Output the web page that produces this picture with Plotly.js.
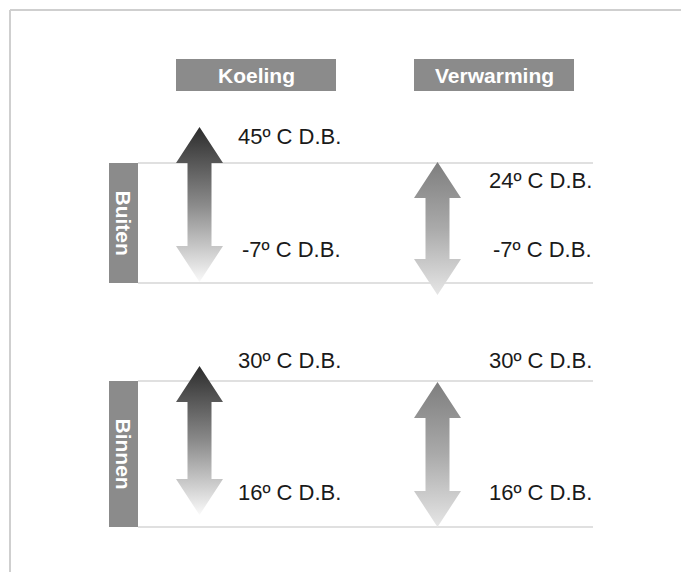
<!DOCTYPE html>
<html>
<head>
<meta charset="utf-8">
<script src="https://cdn.plot.ly/plotly-3.0.1.min.js"></script>
<style>html,body{margin:0;padding:0;background:#fff;}#chart{width:681px;height:572px;}</style>
</head>
<body>
<div id="chart"></div>
<script>
// ---- data ----
const modes = ['Koeling', 'Verwarming'];
const zones = ['Buiten', 'Binnen'];
const koelingMax = [45, 30];      // per zone
const koelingMin = [-7, 16];
const verwarmingMax = [24, 30];
const verwarmingMin = [-7, 16];
const unitLabel = 'º C D.B.';

// ---- layout constants (pixel-space schematic) ----
const W = 681, H = 572;
const colX = [199.5, 437.5];                 // arrow centres per mode
const headerBox = [[176, 336], [414, 574]];  // header x extents per mode
const zoneBand = [[163, 283], [381, 527]];   // horizontal guide lines per zone
const arrowTop = [[127, 162], [366, 382]];   // [zone][mode]
const arrowBot = [[282, 295], [515, 527]];
const labelRight = [343, 594];
const maxLabelY = [[136, 180], [360, 360]];
const minLabelY = [[249, 249], [492, 492]];
const gradients = [
  [[0, '#2c2c2c'], [0.5, '#8a8a8a'], [1, '#fafafa']],
  [[0, '#7e7e7e'], [0.5, '#aaaaaa'], [1, '#e6e6e6']]
];

const maxVals = [koelingMax, verwarmingMax];
const minVals = [koelingMin, verwarmingMin];

function arrowPath(cx, top, bot) {
  const hw = 23.5, sw = 12, hh = 36;
  const x = [cx, cx + hw, cx + sw, cx + sw, cx + hw, cx, cx - hw, cx - sw, cx - sw, cx - hw, cx];
  const y = [top, top + hh, top + hh, bot - hh, bot - hh, bot, bot - hh, bot - hh, top + hh, top + hh, top];
  return {x, y};
}

const traces = [];
const annotations = [];
const shapes = [];

// frame
shapes.push({type: 'line', xref: 'x', yref: 'y', x0: 10, x1: 10, y0: 10, y1: H, line: {color: '#cfcfcf', width: 2}});
shapes.push({type: 'line', xref: 'x', yref: 'y', x0: 10, x1: W, y0: 10, y1: 10, line: {color: '#cfcfcf', width: 2}});

// headers
modes.forEach((m, i) => {
  shapes.push({type: 'rect', x0: headerBox[i][0], x1: headerBox[i][1], y0: 59, y1: 91, fillcolor: '#8b8b8b', line: {width: 0}, layer: 'below'});
  annotations.push({x: (headerBox[i][0] + headerBox[i][1]) / 2, y: 75, text: '<b>' + m + '</b>', showarrow: false,
    font: {family: 'Liberation Sans, Arial, sans-serif', size: 21, color: '#ffffff'}, xanchor: 'center', yanchor: 'middle'});
});

// zones
zones.forEach((z, zi) => {
  const [t, b] = zoneBand[zi];
  shapes.push({type: 'line', x0: 138, x1: 593, y0: t, y1: t, line: {color: '#d6d6d6', width: 1.5}, layer: 'below'});
  shapes.push({type: 'line', x0: 138, x1: 593, y0: b, y1: b, line: {color: '#d6d6d6', width: 1.5}, layer: 'below'});
  shapes.push({type: 'rect', x0: 109, x1: 138, y0: t, y1: b, fillcolor: '#8b8b8b', line: {width: 0}, layer: 'below'});
  annotations.push({x: 123.5, y: (t + b) / 2, text: '<b>' + z + '</b>', textangle: 90, showarrow: false,
    font: {family: 'Liberation Sans, Arial, sans-serif', size: 21, color: '#ffffff'}, xanchor: 'center', yanchor: 'middle'});

  modes.forEach((m, mi) => {
    const p = arrowPath(colX[mi], arrowTop[zi][mi], arrowBot[zi][mi]);
    traces.push({
      type: 'scatter', mode: 'lines', x: p.x, y: p.y, fill: 'toself',
      line: {width: 0, color: 'rgba(0,0,0,0)'},
      fillgradient: {type: 'vertical', colorscale: gradients[mi], start: arrowTop[zi][mi], stop: arrowBot[zi][mi]},
      hoverinfo: 'skip', showlegend: false, name: z + ' ' + m
    });
    annotations.push({x: labelRight[mi], y: maxLabelY[zi][mi], text: maxVals[mi][zi] + unitLabel, showarrow: false,
      font: {family: 'Liberation Sans, Arial, sans-serif', size: 22, color: '#1a1a1a'}, xanchor: 'right', yanchor: 'middle'});
    annotations.push({x: labelRight[mi], y: minLabelY[zi][mi], text: minVals[mi][zi] + unitLabel, showarrow: false,
      font: {family: 'Liberation Sans, Arial, sans-serif', size: 22, color: '#1a1a1a'}, xanchor: 'right', yanchor: 'middle'});
  });
});

const layout = {
  width: W, height: H,
  margin: {l: 0, r: 0, t: 0, b: 0, pad: 0},
  paper_bgcolor: '#ffffff', plot_bgcolor: '#ffffff',
  xaxis: {range: [0, W], visible: false, fixedrange: true},
  yaxis: {range: [H, 0], visible: false, fixedrange: true},
  shapes, annotations, showlegend: false
};

Plotly.newPlot('chart', traces, layout, {displayModeBar: false, staticPlot: true});
</script>
</body>
</html>
